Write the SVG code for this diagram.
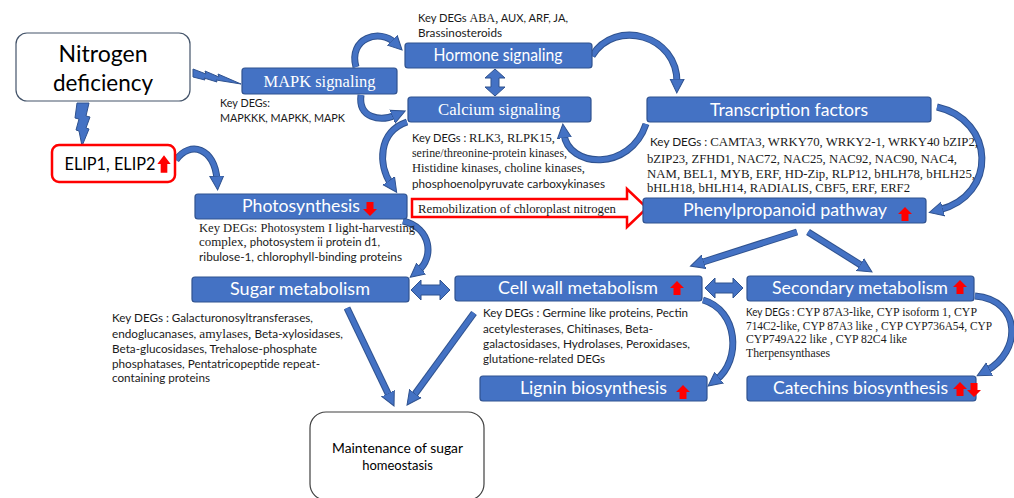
<svg xmlns="http://www.w3.org/2000/svg" width="1014" height="498" viewBox="0 0 1014 498">
<style>
.box{fill:#4472C4;stroke:#2F528F;stroke-width:1.2}
.t{fill:#fff;font-family:Lato,"Liberation Sans",sans-serif;font-size:17px}
.ts{fill:#fff;font-family:"Liberation Serif",serif;font-size:16.5px}
.d{fill:#1a1a1a;font-family:Lato,"Liberation Sans",sans-serif;font-size:11px}
.ds{fill:#1a1a1a;font-family:"Liberation Serif",serif;font-size:12.5px}
.sf{font-family:"Liberation Serif",serif}
.sa{font-family:Lato,"Liberation Sans",sans-serif}
.cO{fill:none;stroke:#2F528F;stroke-width:7;stroke-linecap:butt}
.cI{fill:none;stroke:#4472C4;stroke-width:5;stroke-linecap:butt}
.blk{fill:#4472C4;stroke:#2F528F;stroke-width:1}
.red{fill:#FF0000}
</style>
<defs>
<marker id="ah" markerUnits="userSpaceOnUse" markerWidth="16" markerHeight="16" viewBox="0 0 16 16" refX="4" refY="8" orient="auto">
<path d="M0,1 L14,8 L0,15 Z" fill="#4472C4" stroke="#2F528F" stroke-width="1"/>
</marker>
<path id="up" d="M0,-7 L7,0 L3.5,0 L3.5,7 L-3.5,7 L-3.5,0 L-7,0 Z"/>
</defs>
<rect width="1014" height="498" fill="#fff"/>

<g id="connectors">
<polygon class="blk" points="193,69 206,74 205,71 219,77 218,74 241,84 216,80 217,82 204,78 205,80 193,77"/>
<polygon class="blk" points="77,103 89,103 86,116 90,117 86,128 89,129 82,146 79,131 76,130 79,119 75,118"/>
<path class="cO" d="M176,160 C190,140 215,148 217,180"/><path class="cI" d="M176,160 C190,140 215,148 217,180" marker-end="url(#ah)"/>
<path class="cO" d="M356,67 C348,38 380,28 395,43"/><path class="cI" d="M356,67 C348,38 380,28 395,43" marker-end="url(#ah)"/>
<path class="cO" d="M361,95 C358,118 380,122 396,115"/><path class="cI" d="M361,95 C358,118 380,122 396,115" marker-end="url(#ah)"/>
<path class="cO" d="M407,122 C378,132 378,165 391,184"/><path class="cI" d="M407,122 C378,132 378,165 391,184" marker-end="url(#ah)"/>
<path class="cO" d="M592,56 C615,18 678,35 677,83"/><path class="cI" d="M592,56 C615,18 678,35 677,83" marker-end="url(#ah)"/>
<path class="cO" d="M646,124 C630,172 568,168 564,134"/><path class="cI" d="M646,124 C630,172 568,168 564,134" marker-end="url(#ah)"/>
<path class="cO" d="M937,107 C995,120 998,195 939,210"/><path class="cI" d="M937,107 C995,120 998,195 939,210" marker-end="url(#ah)"/>
<path class="cO" d="M403,221 C432,228 434,258 418,271"/><path class="cI" d="M403,221 C432,228 434,258 418,271" marker-end="url(#ah)"/>
<path class="cO" d="M703,300 C738,310 742,360 716,380"/><path class="cI" d="M703,300 C738,310 742,360 716,380" marker-end="url(#ah)"/>
<path class="cO" d="M975,296 C1022,300 1022,352 986,371"/><path class="cI" d="M975,296 C1022,300 1022,352 986,371" marker-end="url(#ah)"/>
<path class="cO" d="M797,232 L700,263"/><path class="cI" d="M797,232 L700,263" marker-end="url(#ah)"/>
<path class="cO" d="M808,232 L863.5,266.7"/><path class="cI" d="M808,232 L863.5,266.7" marker-end="url(#ah)"/>
<path class="cO" d="M347,308 L389.7,397"/><path class="cI" d="M347,308 L389.7,397" marker-end="url(#ah)"/>
<path class="cO" d="M474,313 L412.9,396.9"/><path class="cI" d="M474,313 L412.9,396.9" marker-end="url(#ah)"/>
<polygon class="blk" points="411,290 421,280 421,285 440,285 440,280 450,290 440,300 440,295 421,295 421,300"/>
<polygon class="blk" points="705,288 715,278 715,283 733,283 733,278 743,288 733,298 733,293 715,293 715,298"/>
<polygon class="blk" points="495,69 505,78 499,78 499,87 505,87 495,96 485,87 491,87 491,78 485,78"/>
<polygon points="412,199 627,199 627,189 647,208 627,227 627,217 412,217" fill="#fff" stroke="#FF0000" stroke-width="2.5"/>
<text class="ds" x="418" y="213" font-size="13" textLength="198" lengthAdjust="spacingAndGlyphs">Remobilization of chloroplast nitrogen</text>
</g>

<g id="nitrogen">
<rect x="16" y="33" width="174" height="68" rx="11" fill="#fff" stroke="#44546A" stroke-width="1.2"/>
<text x="103" y="62" text-anchor="middle" font-family="Lato,'Liberation Sans',sans-serif" font-size="23" fill="#000" textLength="89" lengthAdjust="spacingAndGlyphs">Nitrogen</text>
<text x="103" y="91" text-anchor="middle" font-family="Lato,'Liberation Sans',sans-serif" font-size="23" fill="#000" textLength="100" lengthAdjust="spacingAndGlyphs">deficiency</text>
</g>

<g id="elip">
<rect x="52" y="145" width="123" height="37" rx="7" fill="#fff" stroke="#FF0000" stroke-width="2.5"/>
<text x="110" y="170" text-anchor="middle" font-family="Lato,'Liberation Sans',sans-serif" font-size="17" fill="#000" textLength="91" lengthAdjust="spacingAndGlyphs">ELIP1, ELIP2</text>
<use href="#up" class="red" transform="translate(164,164) scale(0.95,1.25)"/>
</g>

<g id="mapk">
<rect class="box" x="242" y="68" width="155" height="26" rx="3"/>
<text class="ts" x="319.5" y="87" text-anchor="middle" textLength="112" lengthAdjust="spacingAndGlyphs">MAPK signaling</text>
<text class="d" x="220" y="107" textLength="50" lengthAdjust="spacingAndGlyphs">Key DEGs:</text>
<text class="d" x="220" y="122" textLength="125" lengthAdjust="spacingAndGlyphs">MAPKKK, MAPKK, MAPK</text>
</g>

<g id="hormone">
<rect class="box" x="405" y="43" width="187" height="25" rx="3"/>
<text class="t" x="498" y="61" text-anchor="middle" font-size="16" textLength="129" lengthAdjust="spacingAndGlyphs">Hormone signaling</text>
<text class="d" x="418" y="22" textLength="150" lengthAdjust="spacingAndGlyphs">Key DEGs <tspan class="sf" font-size="12">ABA,</tspan> AUX, ARF, JA,</text>
<text class="d" x="418" y="37" textLength="84" lengthAdjust="spacingAndGlyphs">Brassinosteroids</text>
</g>

<g id="calcium">
<rect class="box" x="408" y="97" width="183" height="25" rx="3"/>
<text class="ts" x="499" y="115" text-anchor="middle" textLength="122" lengthAdjust="spacingAndGlyphs">Calcium signaling</text>
<text class="d" x="412" y="142" textLength="143" lengthAdjust="spacingAndGlyphs">Key DEGs : <tspan class="sf" font-size="12.5">RLK3, RLPK15,</tspan></text>
<text class="ds" x="412" y="157" textLength="155" lengthAdjust="spacingAndGlyphs">serine/threonine-protein kinases,</text>
<text class="ds" x="412" y="172" textLength="173" lengthAdjust="spacingAndGlyphs">Histidine kinases, choline kinases,</text>
<text class="d" x="412" y="188" textLength="193" lengthAdjust="spacingAndGlyphs">phosphoenolpyruvate carboxykinases</text>
</g>

<g id="transcription">
<rect class="box" x="647" y="97" width="284" height="25" rx="3"/>
<text class="t" x="789" y="116" text-anchor="middle" textLength="158" lengthAdjust="spacingAndGlyphs">Transcription factors</text>
<text class="ds" x="650" y="146" textLength="328" lengthAdjust="spacingAndGlyphs"><tspan class="sa" font-size="11.5">Key DEGs : </tspan>CAMTA3,  WRKY70,  WRKY2-1,  WRKY40 bZIP2,</text>
<text class="ds" x="647" y="163" textLength="310" lengthAdjust="spacingAndGlyphs">bZIP23, ZFHD1, NAC72, NAC25, NAC92, NAC90, NAC4,</text>
<text class="ds" x="647" y="178" textLength="328" lengthAdjust="spacingAndGlyphs">NAM,  BEL1, MYB, ERF, HD-Zip, RLP12, bHLH78, bHLH25,</text>
<text class="ds" x="647" y="192" textLength="263" lengthAdjust="spacingAndGlyphs">bHLH18, bHLH14, RADIALIS, CBF5, ERF, ERF2</text>
</g>

<g id="phenylpropanoid">
<rect class="box" x="643" y="198" width="283" height="25" rx="3"/>
<text class="t" x="785" y="216" text-anchor="middle" textLength="204" lengthAdjust="spacingAndGlyphs">Phenylpropanoid pathway</text>
<use href="#up" class="red" transform="translate(905,214)"/>
</g>

<g id="photosynthesis">
<rect class="box" x="195" y="194" width="212" height="25" rx="3"/>
<text class="t" x="301" y="212" text-anchor="middle" textLength="118" lengthAdjust="spacingAndGlyphs">Photosynthesis</text>
<use href="#up" class="red" transform="translate(370,209) rotate(180)"/>
<text class="ds" x="199" y="232" textLength="216" lengthAdjust="spacingAndGlyphs">Key DEGs: Photosystem I light-harvesting</text>
<text class="d" x="199" y="246" textLength="181" lengthAdjust="spacingAndGlyphs"><tspan class="sf" font-size="12.5">complex,</tspan> photosystem ii protein d1,</text>
<text class="d" x="199" y="261" textLength="203" lengthAdjust="spacingAndGlyphs">ribulose-1, chlorophyll-binding proteins</text>
</g>

<g id="sugar">
<rect class="box" x="192" y="277" width="217" height="25" rx="3"/>
<text class="t" x="300" y="295" text-anchor="middle" textLength="140" lengthAdjust="spacingAndGlyphs">Sugar metabolism</text>
<text class="d" x="112" y="322" textLength="201" lengthAdjust="spacingAndGlyphs">Key DEGs : Galacturonosyltransferases,</text>
<text class="d" x="112" y="338" textLength="231" lengthAdjust="spacingAndGlyphs">endoglucanases, <tspan class="sf" font-size="12.5">amylases,</tspan> Beta-xylosidases,</text>
<text class="d" x="112" y="353" textLength="205" lengthAdjust="spacingAndGlyphs">Beta-glucosidases, Trehalose-phosphate</text>
<text class="d" x="112" y="368" textLength="208" lengthAdjust="spacingAndGlyphs">phosphatases, Pentatricopeptide repeat-</text>
<text class="d" x="112" y="382" textLength="98" lengthAdjust="spacingAndGlyphs">containing proteins</text>
</g>

<g id="cellwall">
<rect class="box" x="455" y="276" width="247" height="25" rx="3"/>
<text class="t" x="578" y="294" text-anchor="middle" textLength="160" lengthAdjust="spacingAndGlyphs">Cell wall metabolism</text>
<use href="#up" class="red" transform="translate(677,288)"/>
<text class="d" x="483" y="317" textLength="205" lengthAdjust="spacingAndGlyphs">Key DEGs : Germine like proteins, Pectin</text>
<text class="d" x="483" y="333" textLength="170" lengthAdjust="spacingAndGlyphs">acetylesterases, Chitinases, Beta-</text>
<text class="d" x="483" y="348" textLength="207" lengthAdjust="spacingAndGlyphs">galactosidases, Hydrolases, Peroxidases,</text>
<text class="d" x="483" y="363" textLength="122" lengthAdjust="spacingAndGlyphs">glutatione-related DEGs</text>
</g>

<g id="secondary">
<rect class="box" x="747" y="276" width="227" height="25" rx="3"/>
<text class="t" x="860" y="294" text-anchor="middle" textLength="176" lengthAdjust="spacingAndGlyphs">Secondary metabolism</text>
<use href="#up" class="red" transform="translate(960,287)"/>
<text class="ds" x="746" y="316" font-size="11.5" textLength="231" lengthAdjust="spacingAndGlyphs"><tspan class="sa" font-size="10.5">Key DEGs : </tspan>CYP 87A3-like, CYP isoform 1, CYP</text>
<text class="ds" x="746" y="330" font-size="10" textLength="246" lengthAdjust="spacingAndGlyphs">714C2-like, CYP 87A3 like , CYP CYP736A54, CYP</text>
<text class="ds" x="746" y="343" font-size="11.5" textLength="161" lengthAdjust="spacingAndGlyphs">CYP749A22 like , CYP 82C4 like</text>
<text class="ds" x="746" y="357" font-size="11.5" textLength="84" lengthAdjust="spacingAndGlyphs">Therpensynthases</text>
</g>

<g id="lignin">
<rect class="box" x="480" y="376" width="227" height="25" rx="3"/>
<text class="t" x="593.5" y="394" text-anchor="middle" textLength="147" lengthAdjust="spacingAndGlyphs">Lignin biosynthesis</text>
<use href="#up" class="red" transform="translate(683,392)"/>
</g>

<g id="catechins">
<rect class="box" x="747" y="376" width="229" height="25" rx="3"/>
<text class="t" x="860.5" y="394" text-anchor="middle" textLength="175" lengthAdjust="spacingAndGlyphs">Catechins biosynthesis</text>
<use href="#up" class="red" transform="translate(960,389)"/>
<use href="#up" class="red" transform="translate(974,390) rotate(180)"/>
</g>

<g id="maintenance">
<rect x="310" y="412" width="174" height="88" rx="16" fill="#fff" stroke="#404040" stroke-width="1.2"/>
<text x="397.5" y="453" text-anchor="middle" font-family="Lato,'Liberation Sans',sans-serif" font-size="13" fill="#000" textLength="131" lengthAdjust="spacingAndGlyphs">Maintenance of sugar</text>
<text x="397.5" y="470" text-anchor="middle" font-family="Lato,'Liberation Sans',sans-serif" font-size="13" fill="#000">homeostasis</text>
</g>
</svg>
